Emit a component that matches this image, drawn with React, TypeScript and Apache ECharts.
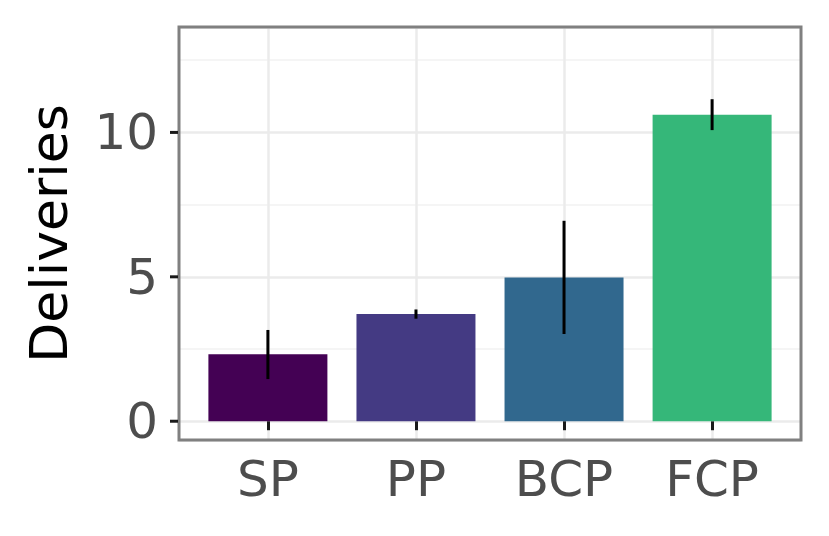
import React, { useEffect, useRef } from "react";
import * as echarts from "echarts";

const categories = ["SP", "PP", "BCP", "FCP"];
const means = [2.32, 3.71, 4.98, 10.61];
const lower = [1.46, 3.55, 3.02, 10.08];
const upper = [3.16, 3.87, 6.94, 11.15];
const barColors = ["#440154", "#443A83", "#31688E", "#35B779"];
const yTicks = [0, 5, 10];
const yMin = -0.65;
const yMax = 13.65;
const minorOffset = 2.5;

export default function App() {
  const ref = useRef<HTMLDivElement>(null);
  useEffect(() => {
    if (!ref.current) return;
    const chart = echarts.init(ref.current, null, { renderer: "svg" });
    const font = "DejaVu Sans";
    chart.setOption({
      animation: false,
      backgroundColor: "#ffffff",
      textStyle: { fontFamily: font },
      grid: [
        {
          left: 179, top: 27, right: 28, bottom: 96,
          show: true, borderColor: "#808080", borderWidth: 3,
          backgroundColor: "transparent", z: 10,
        },
        { left: 267.9, top: 27, right: 116.9, bottom: 96, show: false },
      ],
      xAxis: [
        { gridIndex: 0, type: "value", min: 0, max: 1, show: false },
        {
          gridIndex: 1, type: "category", data: categories, boundaryGap: false,
          axisLine: { show: false },
          axisTick: { show: true, length: 9, lineStyle: { color: "#1a1a1a", width: 3 } },
          axisLabel: { fontSize: 50, color: "#4d4d4d", margin: 14, fontFamily: font },
          splitLine: { show: true, lineStyle: { color: "#ebebeb", width: 2.5 } },
        },
      ],
      yAxis: [
        {
          gridIndex: 0, type: "value", position: "left", min: yMin, max: yMax, splitNumber: 3,
          axisLine: { show: false },
          axisTick: { show: false },
          axisLabel: {
            fontSize: 50, color: "#4d4d4d", margin: 21, fontFamily: font,
            customValues: yTicks,
          },
          splitLine: { show: true, lineStyle: { color: "#ebebeb", width: 2.5 } },
          name: "Deliveries", nameLocation: "middle", nameGap: 104,
          nameTextStyle: { fontSize: 52, color: "#000000", fontFamily: font },
        },
        {
          gridIndex: 0, type: "value", position: "left", min: yMin - minorOffset, max: yMax - minorOffset, splitNumber: 3,
          axisLine: { show: false }, axisTick: { show: false }, axisLabel: { show: false },
          splitLine: { show: true, showMinLine: false, showMaxLine: false, lineStyle: { color: "#f5f5f5", width: 2 } },
        },
        {
          gridIndex: 1, type: "value", min: yMin, max: yMax, show: false,
          splitLine: { show: false },
        },
      ],
      series: [
        {
          type: "bar", xAxisIndex: 1, yAxisIndex: 2, barWidth: 119, clip: false,
          data: means.map((v, i) => ({ value: v, itemStyle: { color: barColors[i] } })),
          z: 2,
        },
        {
          type: "custom", xAxisIndex: 1, yAxisIndex: 2, z: 3, clip: false,
          data: categories.map((_, i) => [i, lower[i], upper[i]]),
          encode: { x: 0, y: [1, 2] },
          renderItem: (params: any, api: any) => {
            const x = api.value(0);
            const lo = api.coord([x, api.value(1)]);
            const hi = api.coord([x, api.value(2)]);
            return {
              type: "line",
              shape: { x1: lo[0], y1: lo[1], x2: hi[0], y2: hi[1] },
              style: { stroke: "#000000", lineWidth: 3 },
            };
          },
        },
        {
          type: "scatter", xAxisIndex: 0, yAxisIndex: 0, z: 20, clip: false, silent: true,
          symbol: "rect", symbolSize: [8, 3], symbolOffset: [-5, 0],
          itemStyle: { color: "#1a1a1a", opacity: 1 },
          data: yTicks.map((v) => [0, v]),
        },
      ],
    });
    return () => chart.dispose();
  }, []);
  return (
    <div
      ref={ref}
      style={{ position: "absolute", left: 0, top: 0, width: 829, height: 536 }}
    />
  );
}
